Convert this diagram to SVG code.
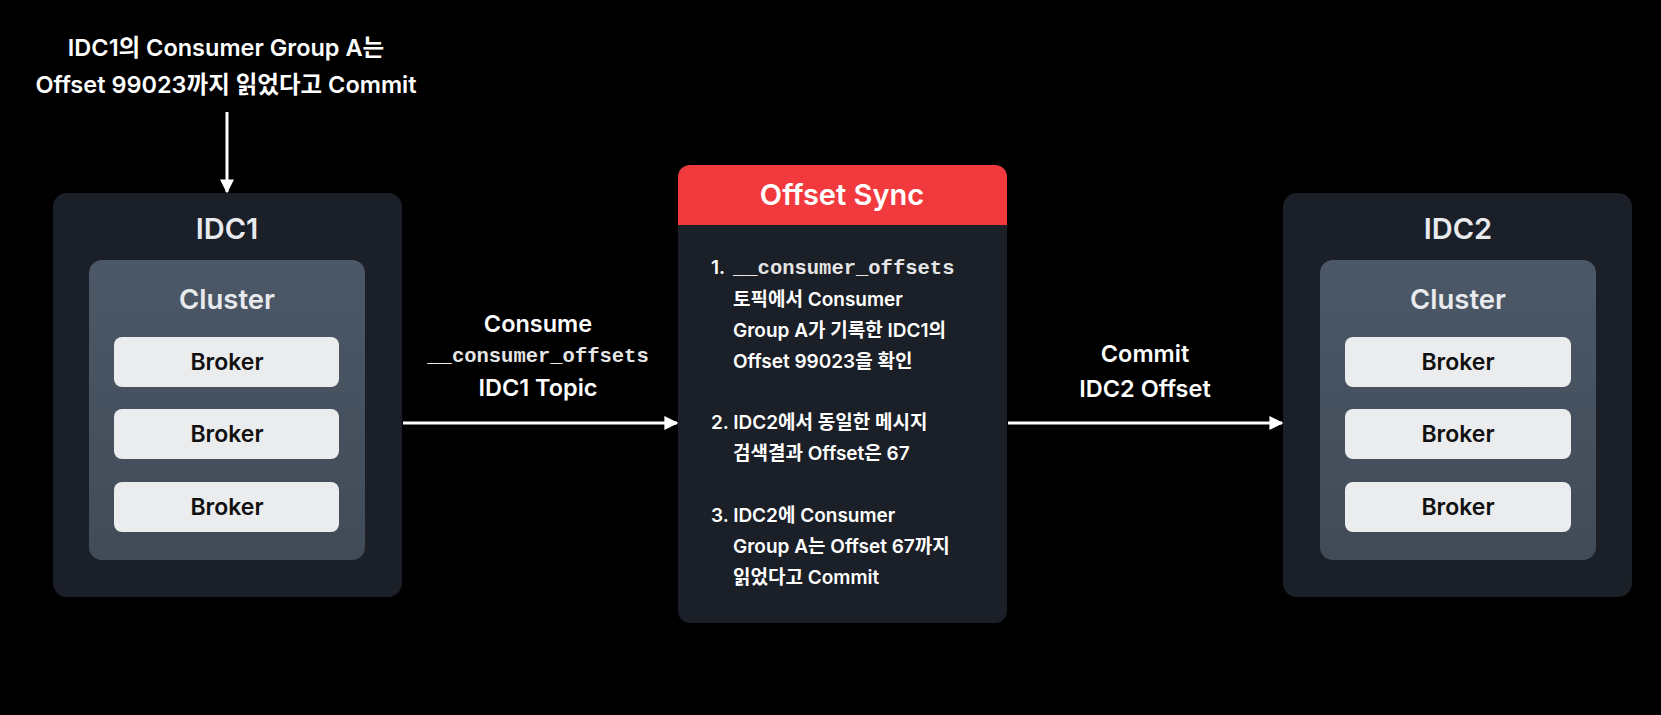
<svg xmlns="http://www.w3.org/2000/svg" width="1661" height="715" viewBox="0 0 1661 715">
<defs>
<marker id="ah" viewBox="0 0 10 10" refX="9" refY="5" markerWidth="14" markerHeight="14" markerUnits="userSpaceOnUse" orient="auto">
<path d="M0,0 L10,5 L0,10 Z" fill="#ffffff"/>
</marker>
<linearGradient id="cg" x1="0" y1="0" x2="0" y2="1">
<stop offset="0" stop-color="#4c5867"/>
<stop offset="1" stop-color="#414b58"/>
</linearGradient>
</defs>
<style>
.t{font-family:Inter,"Noto Sans CJK KR","Liberation Sans",sans-serif;font-weight:600;fill:#ffffff}
.m{font-family:"Liberation Mono","DejaVu Sans Mono",monospace;fill:#e6e6e6;font-weight:bold}
.idc{fill:#1b1f27}
.cl{fill:url(#cg)}
.br{fill:#ebecee}
.bt{font-family:Inter,"Liberation Sans",sans-serif;font-weight:600;font-size:23px;fill:#111111;text-anchor:middle}
.h{font-size:29px;text-anchor:middle;fill:#e8eaee}
.c{font-size:27.5px;text-anchor:middle;fill:#e8eaee}
.b{font-size:19px}
.l{font-size:23.5px;text-anchor:middle}
.line{stroke:#ffffff;stroke-width:3;fill:none;marker-end:url(#ah)}
</style>
<rect width="1661" height="715" fill="#000000"/>

<g id="top-label">
<text class="t l" x="226" y="56">IDC1의 Consumer Group A는</text>
<text class="t l" x="226" y="93">Offset 99023까지 읽었다고 Commit</text>
</g>

<g id="idc1">
<rect class="idc" x="53" y="193" width="349" height="404" rx="14"/>
<text class="t h" x="227" y="239">IDC1</text>
<rect class="cl" x="89" y="260" width="276" height="300" rx="13"/>
<text class="t c" x="227" y="309">Cluster</text>
<rect class="br" x="114" y="337" width="225" height="50" rx="8"/>
<text class="bt" x="227" y="370">Broker</text>
<rect class="br" x="114" y="409" width="225" height="50" rx="8"/>
<text class="bt" x="227" y="442">Broker</text>
<rect class="br" x="114" y="482" width="225" height="50" rx="8"/>
<text class="bt" x="227" y="515">Broker</text>
</g>

<g id="offset-sync">
<rect x="678" y="165" width="329" height="458" rx="12" fill="#1b1f27"/>
<path d="M678,225 V177 A12,12 0 0 1 690,165 H995 A12,12 0 0 1 1007,177 V225 Z" fill="#f23a3e"/>
<text class="t" x="842" y="205" font-size="29" text-anchor="middle">Offset Sync</text>
<text class="t b" x="711" y="274">1.</text>
<text class="m" x="733" y="274" font-size="20.5">__consumer_offsets</text>
<text class="t b" x="733" y="306">토픽에서 Consumer</text>
<text class="t b" x="733" y="337">Group A가 기록한 IDC1의</text>
<text class="t b" x="733" y="368">Offset 99023을 확인</text>
<text class="t b" x="711" y="429">2. IDC2에서 동일한 메시지</text>
<text class="t b" x="733" y="460">검색결과 Offset은 67</text>
<text class="t b" x="711" y="522">3. IDC2에 Consumer</text>
<text class="t b" x="733" y="553">Group A는 Offset 67까지</text>
<text class="t b" x="733" y="584">읽었다고 Commit</text>
</g>

<g id="idc2">
<rect class="idc" x="1283" y="193" width="349" height="404" rx="14"/>
<text class="t h" x="1458" y="239">IDC2</text>
<rect class="cl" x="1320" y="260" width="276" height="300" rx="13"/>
<text class="t c" x="1458" y="309">Cluster</text>
<rect class="br" x="1345" y="337" width="226" height="50" rx="8"/>
<text class="bt" x="1458" y="370">Broker</text>
<rect class="br" x="1345" y="409" width="226" height="50" rx="8"/>
<text class="bt" x="1458" y="442">Broker</text>
<rect class="br" x="1345" y="482" width="226" height="50" rx="8"/>
<text class="bt" x="1458" y="515">Broker</text>
</g>

<g id="connectors">
<line class="line" x1="227" y1="112" x2="227" y2="192"/>
<line class="line" x1="403" y1="423" x2="677" y2="423"/>
<line class="line" x1="1008" y1="423" x2="1282" y2="423"/>
<text class="t l" x="538" y="332">Consume</text>
<text class="m" x="538" y="362" font-size="20.5" text-anchor="middle">__consumer_offsets</text>
<text class="t l" x="538" y="396">IDC1 Topic</text>
<text class="t l" x="1145" y="362">Commit</text>
<text class="t l" x="1145" y="397">IDC2 Offset</text>
</g>
</svg>
